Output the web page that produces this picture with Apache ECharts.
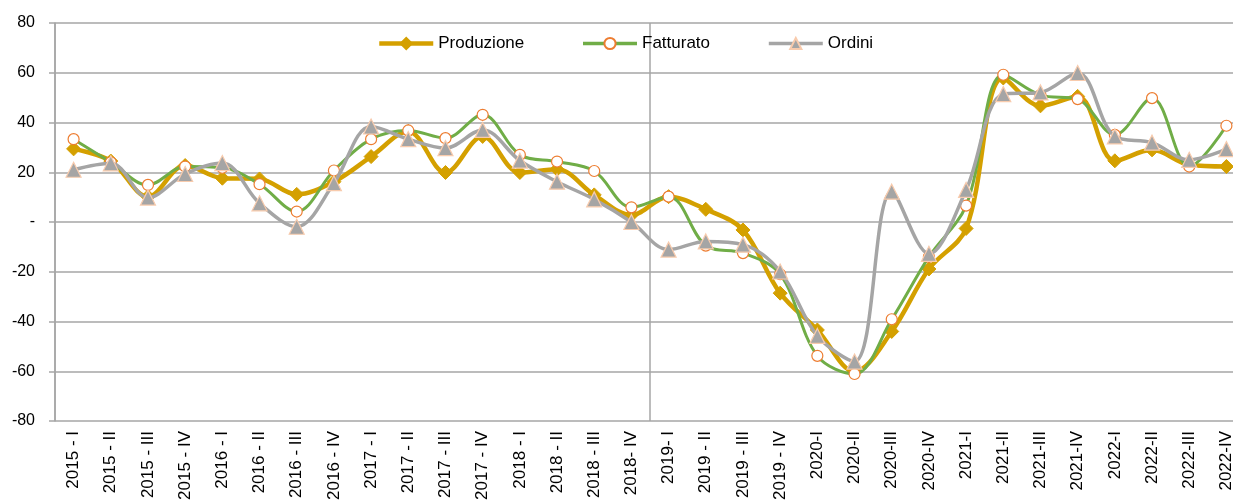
<!DOCTYPE html>
<html>
<head>
<meta charset="utf-8">
<script src="https://cdn.jsdelivr.net/npm/echarts@6/dist/echarts.min.js"></script>
<style>
  html, body { margin: 0; padding: 0; background: #fff; overflow: hidden; }
  #chart { width: 1245px; height: 504px; }
</style>
</head>
<body>
<div id="chart"></div>
<script>
const quarters = [
  '2015 - I', '2015 - II', '2015 - III', '2015 - IV',
  '2016 - I', '2016 - II', '2016 - III', '2016 - IV',
  '2017 - I', '2017 - II', '2017 - III', '2017 - IV',
  '2018 - I', '2018 - II', '2018 - III', '2018- IV',
  '2019- I', '2019 - II', '2019 - III', '2019 - IV',
  '2020-I', '2020-II', '2020-III', '2020-IV',
  '2021-I', '2021-II', '2021-III', '2021-IV',
  '2022-I', '2022-II', '2022-III', '2022-IV'
]
const produzione = [29.4, 24.5, 10.2, 22.7, 17.6, 17.3, 11.1, 16.2, 26.3, 36.4, 19.9, 34.4,
  19.9, 21.2, 10.9, 2.8, 10.2, 5.1, -3.2, -28.6, -43.4, -60.1, -44, -18.9,
  -2.6, 57.9, 46.7, 50.5, 24.6, 29, 23, 22.3]
const fatturato = [33.3, 24, 14.9, 22.3, 21.8, 15.2, 4.2, 20.7, 33.3, 36.8, 33.7, 43.1,
  27, 24.3, 20.5, 5.9, 10.2, -9.5, -12.5, -21, -53.8, -61.1, -39.1, -14,
  6.6, 59.2, 51, 49.4, 35, 49.8, 22.3, 38.7]
const ordini = [21, 23.6, 9.8, 19.3, 23.7, 7.5, -1.9, 15.6, 38.4, 33.3, 29.7, 37,
  24.7, 16.2, 9.1, 0, -11.1, -7.8, -9.1, -19.9, -45.8, -56.1, 12.2, -12.8,
  12.9, 51.4, 52.1, 59.9, 34.4, 31.9, 25, 29.3]
const yTicks = [-80, -60, -40, -20, 0, 20, 40, 60, 80]
// the vertical divider sits before this quarter
const dividerAt = quarters.indexOf('2019- I')

const font = 'Liberation Sans, Arial, sans-serif'
const gridGray = '#a6a6a6'

const chart = echarts.init(document.getElementById('chart'))
chart.setOption({
  animation: false,
  textStyle: { fontFamily: font },
  legend: {
    top: 30,
    left: 372,
    itemWidth: 54,
    itemHeight: 14,
    itemGap: 57,
    textStyle: { fontSize: 17, color: '#000', fontFamily: font },
    data: [
      { name: 'Produzione', lineStyle: { width: 4.5 } },
      { name: 'Fatturato', lineStyle: { width: 3.5 } },
      { name: 'Ordini', lineStyle: { width: 3.5 } }
    ]
  },
  grid: { left: 55, right: 0, top: 23, bottom: 83 },
  xAxis: [
    {
      type: 'category',
      data: quarters,
      boundaryGap: true,
      axisLine: { show: false },
      axisTick: { show: false },
      axisLabel: { rotate: 90, margin: 10, fontSize: 17, color: '#000', interval: 0 },
      splitLine: { show: false }
    },
    {
      // helper axis only used to draw the divider line between 2018 and 2019
      type: 'value',
      position: 'top',
      min: 0,
      max: quarters.length,
      interval: dividerAt,
      axisLine: { show: false },
      axisTick: { show: false },
      axisLabel: { show: false },
      splitLine: { show: true, lineStyle: { color: gridGray, width: 1.5 } }
    }
  ],
  yAxis: {
    type: 'value',
    min: yTicks[0],
    max: yTicks[yTicks.length - 1],
    interval: 20,
    axisLine: { show: true, lineStyle: { color: gridGray, width: 1.5 } },
    axisTick: { show: true, length: 6, lineStyle: { color: gridGray, width: 1.5 } },
    axisLabel: {
      margin: 20,
      fontSize: 16,
      color: '#000',
      formatter: (v) => (v === 0 ? '-' : String(v))
    },
    splitLine: { lineStyle: { color: gridGray, width: 1.5 } }
  },
  series: [
    {
      name: 'Produzione',
      type: 'line',
      data: produzione,
      smooth: 0.35,
      z: 3,
      lineStyle: { color: '#d4a000', width: 4.5 },
      symbol: 'diamond',
      symbolSize: 14,
      itemStyle: { color: '#d4a000', borderColor: '#d4a000', borderWidth: 1 }
    },
    {
      name: 'Fatturato',
      type: 'line',
      data: fatturato,
      smooth: 0.35,
      z: 4,
      lineStyle: { color: '#70ad47', width: 3 },
      symbol: 'circle',
      symbolSize: 11,
      itemStyle: { color: '#ffffff', borderColor: '#ed7d31', borderWidth: 1.2 }
    },
    {
      name: 'Ordini',
      type: 'line',
      data: ordini,
      smooth: 0.35,
      z: 5,
      lineStyle: { color: '#a5a5a5', width: 3.5 },
      symbol: 'triangle',
      symbolSize: 15,
      itemStyle: { color: '#a5a5a5', borderColor: '#f8cbad', borderWidth: 1.2 }
    }
  ]
})
</script>
</body>
</html>
